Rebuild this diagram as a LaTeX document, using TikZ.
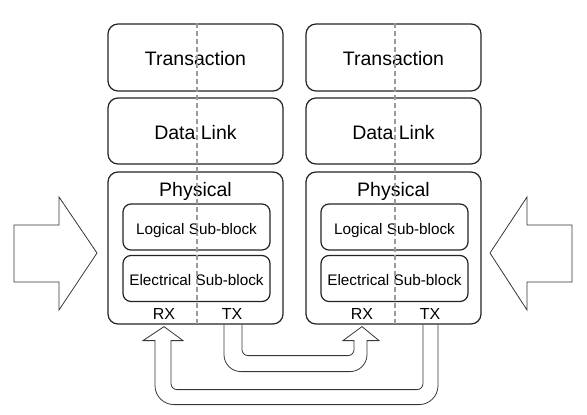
\documentclass[tikz,border=0pt]{standalone}
\usepackage{fontspec}
\setmainfont{Liberation Sans}
\usetikzlibrary{calc}
\definecolor{layer_line}{RGB}{35,35,35}
\definecolor{link_line}{RGB}{55,55,55}
\definecolor{lane_gray}{RGB}{155,155,155}

\begin{document}
\begin{tikzpicture}[x=1pt, y=-1pt,
          layer/.style={draw=layer_line, line width=1.2pt, rounded corners=10pt,
                        minimum width=175pt, inner sep=0pt,
                        text height=16pt, text depth=0pt,
                        font=\fontsize{19.5}{22}\selectfont},
          subblk/.style={draw=layer_line, line width=1.2pt, rounded corners=8pt,
                         minimum width=147pt, minimum height=46pt, inner sep=0pt,
                         text height=14pt, text depth=0pt,
                         font=\fontsize{15.3}{18}\selectfont},
          port/.style={anchor=base, inner sep=0pt, font=\fontsize{16}{18}\selectfont},
          lane/.style={draw=lane_gray, line width=1.3pt, dash pattern=on 5pt off 3pt},
          hollow/.style={draw=link_line, line width=0.8pt, line join=miter}]
  \useasboundingbox (0,0) rectangle (587,415);

  % two protocol stacks
  \foreach \s/\dx in {L/0, R/198} {
    \node[layer, minimum height=67pt]  (tr\s) at (195.5+\dx, 57.5) {Transaction};
    \node[layer, minimum height=66pt]  (dl\s) at (195.5+\dx, 131)  {Data Link};
    \node[layer, minimum height=152pt] (ph\s) at (195.5+\dx, 248)  {};
    \node[anchor=base, inner sep=0pt, font=\fontsize{19.5}{22}\selectfont]
      (phl\s) at (195.5+\dx, 196) {Physical};
    \node[subblk] (lg\s) at (196.5+\dx, 227)   {Logical Sub-block};
    \node[subblk] (el\s) at (196.5+\dx, 278.5) {Electrical Sub-block};
    \node[port] (rx\s) at (164+\dx, 319) {RX};
    \node[port] (tx\s) at (232+\dx, 319) {TX};
    \draw[lane] ([xshift=1.5pt]tr\s.north) -- ([xshift=1.5pt]ph\s.south);
  }

  % side arrows
  \draw[hollow] (14,225) -- (59,225) -- (59,197) -- (97,253) -- (59,310)
    -- (59,282) -- (14,282) -- cycle;
  \draw[hollow] (572,225) -- (527,225) -- (527,197) -- (490,253) -- (527,310)
    -- (527,282) -- (572,282) -- cycle;

  % TX left -> RX right
  \draw[hollow] ($(txL |- phL.south)+(-8,0)$)
    [rounded corners=17pt] -- ++(0,47) -- ++(143,0)
    [sharp corners] -- ++(0,-31) -- ++(12,0) -- ($(rxR |- phL.south)+(0,2)$)
    -- ++(-19,14) -- ++(11,0)
    [rounded corners=6pt] -- ++(0,15) -- ++(-112,0)
    [sharp corners] -- ++(0,-31);

  % TX right -> RX left
  \draw[hollow] ($(txR |- phR.south)+(8,0)$)
    [rounded corners=19pt] -- ++(0,80) -- ++(-283,0)
    [sharp corners] -- ++(0,-64) -- ++(-12,0) -- ($(rxL |- phL.south)+(0,2)$)
    -- ++(19,14) -- ++(-12,0)
    [rounded corners=6pt] -- ++(0,49) -- ++(252,0)
    [sharp corners] -- ++(0,-65);
\end{tikzpicture}
\end{document}
